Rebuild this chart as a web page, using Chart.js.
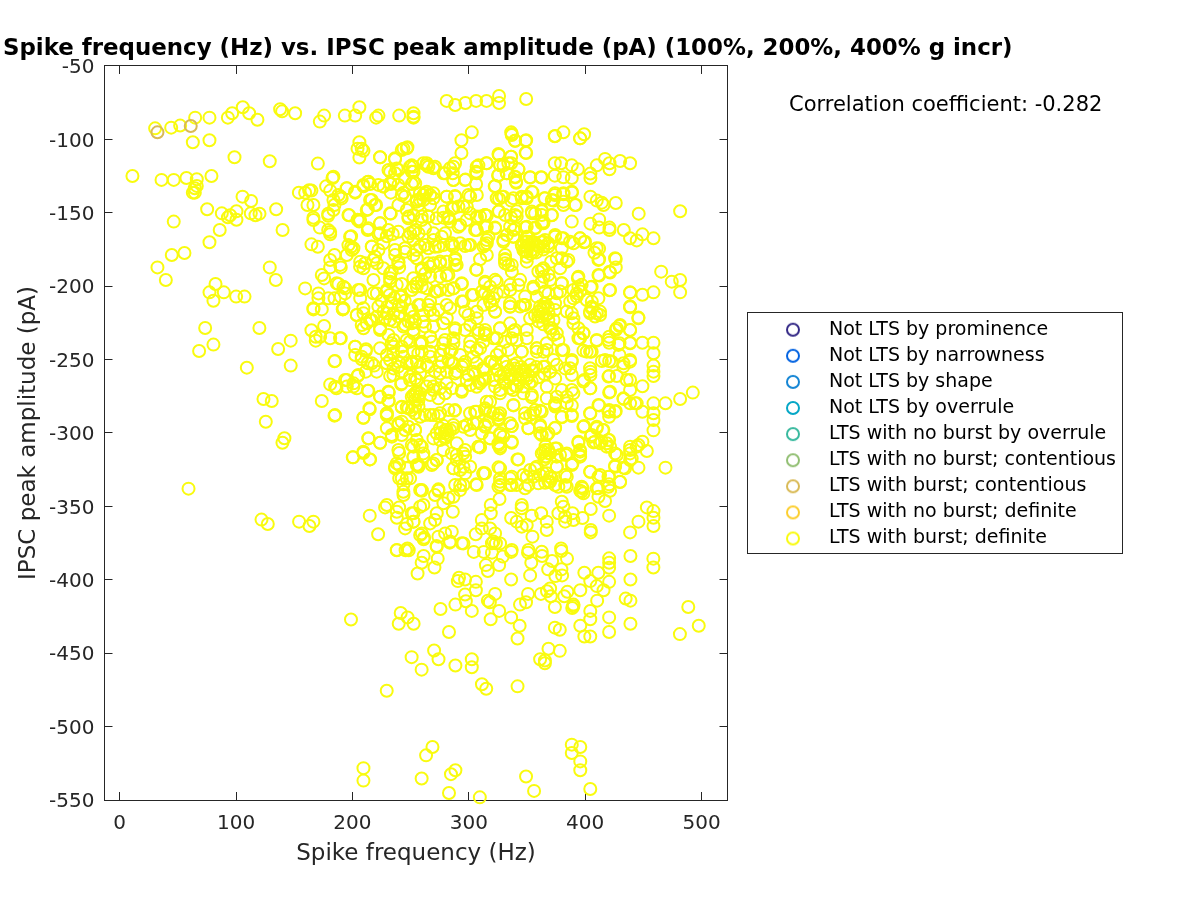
<!DOCTYPE html>
<html>
<head>
<meta charset="utf-8">
<title>Spike frequency vs. IPSC peak amplitude</title>
<script src="https://cdn.jsdelivr.net/npm/chart.js@4"></script>
<style>
    body { margin: 0; background: #fff; }
    canvas { display: block; }
</style>
</head>
<body>
<canvas id="myChart" width="1200" height="900"></canvas>
<script>
// Values, [spike frequency, IPSC peak amplitude]
const burstContentious = [[32.5,-95.2],[61.1,-90.9]];

const burstDefinite = [
    // outer top left
    [30.5,-92.5],[44.3,-92],[52,-90.6],[64.9,-85.2],[77.2,-85.2],[62.9,-102],[77.2,-100.6],[93,-85.2],[96.7,-82.2],[105.8,-78.1],
    [111.3,-82.2],[118.4,-86.6],[137.9,-79.5],[139.6,-80.9],[150.8,-82.2],[172,-87.9],[175.7,-83.8],[193.5,-83.8],[202.4,-83.8],[206,-78.1],
    [220.4,-85.2],[222.4,-83.8],[240.2,-83.8],[252.5,-82.2],[252.5,-85.2],[98.7,-112.2],[129,-114.9],[170.3,-116.5],[206,-102],[204.4,-106.3],
    [208,-106.3],[209.5,-107.7],[206,-112.4],[223.8,-112.2],[236.7,-113.6],[243.9,-106.3],[247.3,-105.4],[11,-124.9],[36,-127.6],[46.5,-127.6],
    [57.4,-126.3],[66.3,-127.2],[66.3,-131.7],[64.6,-133.3],[64.6,-136.3],[62.9,-136.3],[78.9,-124.9],[105.6,-139],[113,-142],[75.2,-147.6],
    [87.8,-150.4],[95,-151.7],[93,-153.1],[100.4,-149],[100.4,-154.7],[112.7,-150.4],[116.7,-151.7],[120.2,-150.6],[134.5,-147.6],[140,-161.7],
    [46.5,-156],[86,-161.7],[77.2,-170.1],[44.8,-178.8],[55.7,-177.4],[32.5,-187.2],[39.7,-195.8],[129,-187.2],[134.2,-195.8],[82.4,-198.5],
    [77.2,-204.2],[89.5,-204.2],[100.1,-207.1],[107.3,-207.1],[80.6,-209.9],[159.4,-201.5],
    // left edge of the cloud, top half
    [154,-136.3],[159.4,-136.3],[162.8,-134.7],[164.8,-134.9],[161.4,-144.7],[166.5,-144.7],[166.5,-153.3],[166.5,-154.9],[179.2,-150.6],[179.2,-152],
    [172,-160.1],[179.2,-161.7],[180.9,-163.1],[180.9,-164.7],[164.8,-171.5],[170.3,-173.1],[182.9,-126.3],[177.4,-132],[180.9,-134.9],[188,-137.9],
    [190,-139],[184.6,-144.7],[195.2,-133.3],[202.4,-136.3],[209.5,-132],[213.2,-129],[215.2,-130.4],[215.2,-141.3],[213.2,-147.6],[220.4,-144.7],
    [197.2,-151.7],[204.4,-154.7],[206,-156],[213.2,-161.7],[198.9,-166],[198.9,-173.1],[223.8,-157.2],[222.4,-164.7],[229.6,-166],[234.7,-164.5],
    [233,-150.6],[231,-120.8],[236.7,-123.1],[238,-119.9],[251,-117.7],[252.5,-122],[226.7,-132],[233,-130.4],[233,-136.3],[243.9,-136.3],
    [245.3,-139],[251,-130.4],[255.3,-141.3],[248.2,-152.6],[249.6,-164],[245.3,-176.5],[252.5,-178.8],[236.7,-178.8],[239.6,-183.3],[240.2,-187.2],
    [216.7,-173.1],[219.5,-179.9],[222.4,-175.3],[221,-184.4],[184.6,-178.8],[180.9,-182.2],[180.9,-187.2],[173.7,-192.4],[175.7,-194.7],[190,-187.2],
    [195.2,-178.8],[199.5,-175.3],[206.7,-183.3],[209.5,-187.8],[188,-198.5],[192.3,-200.3],[193.7,-204.9],[190,-207.1],[206.7,-202.6],[206.7,-208.3],
    [218.1,-195.8],[232.4,-191.3],[232.4,-197],[242.4,-198.5],[221,-204.9],[229.6,-202.6],[241,-207.1],[255.3,-198],[251,-202.6],[170.8,-204.9],
    [170.8,-208.3],[179.4,-208.3],[184.6,-208.3],[166.5,-215],[192.3,-215.1],
    // top right
    [281,-73.8],[288.3,-76.6],[297.1,-75.2],[306.3,-73.8],[315.2,-73.8],[326,-70.4],[326,-75.2],[349.3,-72.5],[252.5,-84.5],[302.6,-95.2],
    [293.7,-100.6],[293.7,-109.3],[336.4,-95.2],[337,-96.3],[339.8,-100.9],[349.3,-100.6],[349.3,-109.3],[373.9,-97.9],[381.3,-95.2],[395.7,-99.3],
    [399.1,-96.5],[326,-110.6],[336.4,-111.8],[336.4,-116.3],[329.8,-117.7],[326.9,-117.7],[342.7,-120.4],[325.2,-124.7],[332.7,-123.1],[339.8,-125.8],
    [340.7,-129.5],[352.7,-125.8],[361.9,-125.8],[322.3,-132],[373.9,-116.3],[379.3,-116.3],[388.5,-117.7],[393.7,-120.4],[373.9,-124.7],[381.3,-125.8],
    [388.5,-126.3],[410,-117.7],[417.1,-113.3],[420.9,-116.3],[420.9,-120.4],[430,-114.7],[438.6,-116.3],[404.5,-123.3],[404.5,-126.3],[404.5,-139],
    [410,-141.7],[415.7,-144.7],[414.3,-143.1],[426.3,-143.3],[446,-150.6],[481.6,-149],[388.5,-156],[404.5,-157.4],[412,-154.5],[412,-160.1],
    [420.9,-160.1],[420.9,-161.7],[433.2,-161.7],[438.6,-167.4],[444.3,-168.8],[449.2,-164.7],[458.7,-167.4],[395.7,-167.4],[399.1,-170.1],[408,-177.2],
    [412,-174.4],[412,-181.7],[426.3,-181.5],[426.3,-187.2],[420.9,-190.1],[412,-192.8],[465.3,-190.1],[474.4,-196.9],[481.6,-195.8],[481.6,-204.2],
    [458.7,-204.2],[449.2,-205.8],[438.6,-204.2],[420.9,-202.8],[404.8,-200.8],[393.7,-194.4],[438.6,-213.9],
    // middle, top half
    [388.7,-136.3],[381.3,-137.4],[373.9,-137.9],[365,-140.1],[354.7,-136],[349.8,-139],[345.5,-140.1],[336.4,-141.7],[326,-140.4],[329.8,-139],
    [306.9,-137.9],[301.2,-139],[306.3,-130.4],[297.1,-127.4],[286.8,-127.7],[286.3,-123.1],[286.8,-118.6],[278.2,-123.1],[263.9,-117.7],[306.3,-122],
    [308.3,-117.7],[315.2,-116.3],[288.3,-139],[281,-139],[266.8,-137.9],[261,-137.9],[255.3,-142.4],[269.6,-140.1],[381.3,-144.7],[372.8,-141.7],
    [391.9,-144.7],[371.3,-151.7],[362.7,-149],[364.2,-156],[354.3,-150.4],[326,-149],[341.2,-149],[336.4,-153.3],[341.2,-152.6],[315.5,-152],
    [306.9,-153.3],[298.3,-145.8],[291.1,-145.8],[285.4,-147],[278.2,-153.3],[284,-156],[292.6,-158.3],[306.9,-161.7],[315.5,-159.5],[322.6,-160.1],
    [348.4,-160.1],[357,-160.1],[362.7,-157.2],[338.4,-161.7],[329.8,-169.7],[338.4,-166.3],[332.7,-165.1],[374.2,-165.1],[381.3,-167.4],[390,-170.8],
    [315.5,-170.8],[301.2,-171.9],[296.9,-172.6],[285.4,-170.8],[278.2,-171.9],[271,-173.1],[255.3,-175.3],[255.3,-181],[315.5,-178.8],[309.7,-181.7],
    [288.3,-181],[288.3,-185.6],[281,-183.3],[275.4,-184.4],[269.6,-184.4],[306.3,-188.7],[331.2,-181.5],[331.2,-184.4],[337,-190.1],[334.1,-185.6],
    [349.8,-166.3],[349.8,-169.7],[349.8,-173.1],[349.8,-176.5],[349.8,-179.9],[349.8,-183.3],[354,-169.7],[354,-175.3],[364,-169.7],[364,-173],
    [368.5,-170.8],[370.7,-183.3],[378.5,-187.8],[384.2,-183.3],[379.9,-181],[362.7,-189],[364.2,-193.5],[369.9,-195.8],[281,-192.8],[294,-198.5],
    [286.8,-201.5],[282.5,-202.6],[259.6,-195.8],[262.5,-191.3],[252.5,-200.3],[259.6,-200.3],[271,-203.7],[275.4,-202.6],[314,-196.9],[324,-196.9],
    [318.3,-200.3],[311.2,-203.7],[316.9,-207.1],[324,-204.9],[335.5,-202.6],[342.7,-199.2],[355.6,-201.5],[362.7,-197],[379.9,-198],[378.5,-203.7],
    [368.5,-204.9],[358.4,-207.1],[394.2,-200.3],[392.8,-204.9],[390,-208.3],[387.1,-210.5],[395.7,-203.7],[405.7,-210.5],[411.4,-208.3],[348.4,-212.8],
    [335.5,-211.7],[318.3,-210.5],[295.4,-210.5],[302.6,-206],[281,-212.8],[266.8,-210.5],[258.2,-212.8],[374.2,-211.7],[364.2,-214],
    [252.5,-118.6],[251,-122],[254,-130],[258.2,-141.3],[262.5,-136.7],[265.3,-118.6],[261,-116.3],[271,-118.6],[252.5,-151.5],[259.6,-152.6],
    [265.3,-152.6],[254,-161.7],[256.8,-164],[262.5,-160.6],[269.6,-164],[276.8,-166.3],[282.5,-152.6],[252.5,-168.5],[262.5,-171.9],[265.3,-184.4],
    [259.6,-187.8],[266.8,-193.5],[275.4,-193.5],[286.8,-173],[292.6,-170.8],[301.2,-150.4],[309.7,-152.6],[312.6,-173],[316.9,-166.3],[362.7,-151.5],
    [357,-150.4],[335.5,-159.5],
    // lower left
    [73.5,-228.5],[120.1,-228.5],[80.6,-239.8],[68.3,-244.1],[109.3,-255.5],[136.2,-242.8],[147,-237.1],[147,-254.1],[123.6,-276.8],[130.7,-278.2],
    [125.6,-292.3],[141.6,-303.6],[139.9,-306.6],[59.2,-337.9],[121.9,-359],[127.3,-362],[154.2,-360.4],[166.5,-360.4],[163.1,-363.4],[173.7,-278.2],
    [184.6,-288.2],[184.6,-251.2],[166.5,-215.8],[173.7,-215.8],[191.8,-215.8],[164.8,-230],[175.7,-227.1],[168.5,-234.4],[168.5,-237.1],[172.3,-234.4],
    [180.9,-235.5],[190,-235.5],[180.9,-266.9],[186.3,-269.6],[195.2,-263.9],[195.2,-268.4],[202.4,-241.2],[202.4,-246.9],[211.5,-244.1],[208,-249.8],
    [213.2,-252.5],[218.7,-254.1],[204.4,-261.2],[211.5,-258.2],[200.9,-268.4],[203.8,-269.6],[213.2,-271.2],[223.8,-275.3],[231.3,-272.5],[231.3,-278.2],
    [214.9,-283.9],[209.5,-289.6],[229.6,-286.6],[229.6,-288.2],[242.4,-282.5],[246.7,-282.5],[251,-284.3],[213.8,-303.6],[223.8,-306.6],[229.6,-296.8],
    [233.9,-302.5],[239.6,-293.4],[242.4,-292.3],[245.3,-298],[253.9,-298],[209.5,-313.6],[200.6,-316.6],[214.9,-318],[240.2,-313.6],[236.7,-323],
    [240.2,-321.8],[247.3,-323.6],[240.2,-330.9],[246.7,-330.9],[243.9,-335],[243.9,-342.3],[252.5,-309.3],[252.5,-316.6],[256.8,-323],[258.2,-338.8],
    [228.1,-350.7],[229.6,-349.1],[240.2,-350.7],[238.2,-353.6],[238.2,-357.7],[214.9,-356.3],[222.1,-369],[245.3,-365],[246.7,-362],[252.5,-360.4],
    [251,-354.7],[258.2,-350.2],[258.2,-369.5],[238.2,-379.7],[247.3,-378.6],[203.8,-219.6],[209.5,-218.5],[215.2,-223],[209.5,-228.7],[212.4,-225.3],
    [223.8,-228.7],[221,-220.8],[232.4,-223],[226.7,-217.4],[235.3,-218.5],[242.4,-214],[241,-218.5],[251,-216.2],[253.9,-224.2],[245.3,-226.4],
    [231,-233.2],[246.7,-236.7],[235.3,-236.7],[223.8,-242.3],[229.6,-246.9],[235.3,-241.2],[242.4,-244.6],[252.5,-244.6],[232.4,-250.3],[239.6,-251.4],
    [246.7,-252.5],[255.3,-251.4],[235.3,-256],[242.4,-258.2],[232.4,-261.2],[241.9,-266.9],[249.6,-263.9],[253.9,-262.8],[258.2,-273],[253.9,-277.5],
    [252.5,-274.1],[256.8,-282],
    // lower right
    [492.5,-272.5],[481.6,-276.8],[469,-279.8],[458.7,-279.8],[449.2,-285.5],[444.3,-279.8],[438.6,-279.8],[433.2,-276.8],[458.7,-286.6],[458.7,-291.2],
    [458.7,-298.2],[469,-323.6],[453,-312.3],[449.2,-305.9],[445.8,-308.2],[438.6,-309.3],[438.6,-313.9],[438.6,-318.4],[445.8,-323.6],[432.9,-323.6],
    [425.7,-322.3],[427.2,-315],[421.4,-309.3],[418.6,-307],[420.6,-304.8],[412.8,-307],[407.1,-306.4],[404.8,-302.5],[415.1,-298],[410,-295.7],
    [399.1,-295.2],[420.6,-288.9],[420.6,-284.3],[426.3,-285],[412,-281.2],[404.5,-286.8],[420.6,-272.5],[404.5,-269.6],[404.5,-260.5],[404.5,-258.2],
    [399.1,-263.9],[458.7,-261.2],[458.7,-258.2],[458.7,-254.1],[458.7,-245.7],[458.7,-238.5],[449.2,-238.5],[438.6,-238.5],[438.6,-229.8],[429.5,-227.1],
    [426.3,-229.8],[420.6,-234.4],[420.6,-238.5],[410,-237.1],[429.5,-238.9],[429.5,-246.9],[438.6,-251.4],[432.9,-252.5],[438.6,-263.9],[449.2,-268.2],
    [438.6,-270.7],[427.2,-261.2],[420.6,-261.2],[414.3,-251],[420.6,-251],[438.6,-214.4],[445.8,-221.4],[404.2,-244.6],[398.5,-243.9],[394.2,-235.5],
    [398.5,-232.1],[453,-350.7],[458.7,-353.2],[458.7,-357.7],[458.7,-363.4],[445.8,-360.4],[438.6,-367.7],[420.6,-356.3],[404.8,-351.8],[397.7,-357.9],
    [404.8,-366.1],[404.8,-367.7],[430,-333.4],[420.6,-329.8],[420.6,-335],[421.4,-339.3],[417.1,-346.3],[411.4,-343.4],[411.4,-337.7],[412.8,-328.6],
    [404.5,-326.4],[397.7,-337.7],[395.7,-339.3],[398.5,-341.1],[395.7,-312.7],[394.2,-306.6],[395.7,-316.1],[389.1,-320.7],[383.3,-315],[382.8,-328.6],
    [375.6,-323],[382.8,-335.4],[377,-336.6],[369.9,-333.2],[365.6,-333.9],[361.3,-328.6],[357,-324.1],[349.8,-329.8],[348.4,-337.7],[341.2,-335.4],
    [335.5,-330.9],[335.5,-335.4],[326.9,-324.1],[326.9,-333.2],[325.5,-336.6],[341.8,-318],[312.6,-327.5],[306.3,-335],[292.6,-335.4],[288.3,-335.4],
    [301.2,-323],[296.9,-327.5],[292.6,-325.2],[286.8,-324.1],[289.7,-318.4],[295.4,-313.9],[285.4,-313.9],[278.2,-311.6],[279.7,-302.5],[272.5,-300.2],
    [275.4,-304.8],[281.1,-298],[286.8,-294.6],[289.7,-307],[296.9,-316.1],[259.6,-309.3],[255.3,-304.8],[261,-316.1],[269.6,-320.7],[272.5,-318.4],
    [255.3,-321.8],[249.6,-330.9],[308.3,-309.3],[326.9,-309.3],[325.5,-307],[337,-306.6],[318.3,-303.6],[311.2,-300.2],[326.9,-301.4],[336.9,-295.2],
    [361.3,-295.7],[361.3,-300.2],[367,-301.4],[374.2,-296.4],[351.3,-296.8],[348.4,-290],[355.6,-286.6],[361.3,-284.8],[379.9,-289.3],[388.5,-288.4],
    [388.5,-281.2],[374.2,-282],[338.4,-281.2],[325.5,-287.7],[318.3,-285.5],[305.4,-285.5],[287.6,-284.8],[282.5,-284.3],[273.9,-288.4],[266.8,-287.7],
    [258.2,-288.9],[306.9,-293.4],[298.3,-294.6],[301.2,-298],[314,-294.6],[325.5,-291.2],[335.5,-293.4],[318.3,-278.7],[314,-283.2],[365.6,-311.6],
    [362.7,-313.9],[369.9,-313.9],[374.2,-310.5],[375.6,-316.1],[365.6,-316.1],[367,-327.5],[371.3,-330.9],[355.6,-329.8],[259.6,-339.3],[273.9,-339.3],
    [271,-342.3],[286.8,-343.4],[282.5,-344.5],[278.2,-347.9],[261,-349],[286.3,-353.6],[272.5,-354.7],[252.5,-354.7],[252.5,-360.4],[266.8,-361.6],
    [271,-359.3],[285.4,-367.2],[279.7,-368.4],[259.6,-368.4],[261.6,-371.3],[273.9,-370.6],[284,-374],[295.4,-375.2],[272.5,-377.5],[326.4,-345],
    [318.9,-349],[318.9,-354.7],[311.2,-359.3],[311.2,-365],[318.3,-365],[306,-369],[322.6,-368.4],[321.2,-374],[326.9,-375.2],[336.4,-357.9],
    [345.5,-349],[345.5,-351.3],[354.1,-356.3],[362.2,-354.7],[367,-360.4],[367,-366.1],[354.7,-370.6],[341.2,-360.4],[345.5,-363.8],[349.8,-362.7],
    [379.9,-346.8],[381.3,-350.2],[377,-354.7],[382.8,-357],[382.8,-360.4],[389.9,-359.3],[389.1,-354.7],[351.3,-379.7],[379.3,-378.6],[362.7,-380.9],
    [336.9,-379.7],
    // dense band around -260
    [322.6,-252.5],[326.9,-261.6],[332.7,-254.8],[331.2,-266.2],[335.5,-260.5],[338.4,-253.7],[341.2,-258.2],[342.7,-263.9],[346.9,-257.1],[346.9,-262.8],
    [351.3,-260.5],[354.1,-265],[354.1,-274.1],[346.9,-268.4],[335.5,-269.6],[326.9,-270.7],[365.6,-254.8],[369.9,-258.2],[374.2,-262.8],[367,-268.4],
    [375.6,-275.3],[374.2,-279.8],[379.9,-270.7],[384.2,-275.3],[388.5,-270.7],[388.5,-260.5],[388.5,-251.4],[382.8,-256],[372.8,-250.3],[381.3,-243.5],
    [364.2,-244.6],[358.4,-244.6],[359.9,-217.4],[362.7,-220.8],[364.2,-215],[368.5,-218.5],[369.9,-228.7],[372.8,-233.2],[377,-236.7],[367,-238.9],
    [358.4,-242.3],[372.8,-223],[389.9,-225.3],[388.5,-218.5],[405.7,-214],[410,-218.5],[412.8,-219.6],[404.2,-217.4],[322.6,-217.4],[312.6,-212.8],
    [335.5,-214],[326.9,-228.7],[335.5,-225.3],[339.8,-229.8],[349.8,-235.5],[345.5,-244.6],[336.9,-235.5],[324,-235.5],[314,-233.2],[308.3,-229.8],
    [301.2,-226.4],[288.3,-229.8],[301.2,-237.8],[306.9,-243.5],[319.8,-251.4],[324,-246.9],[292.6,-246.9],[284,-244.6],[286.8,-238.9],[278.2,-238.9],
    [266.8,-234.4],[259.6,-237.8],[269.6,-227.6],[281.1,-221.9],[266.8,-216.2],[284,-215],[296.9,-217.4],[306.9,-217.4],[252.5,-220.8],[261,-224.2],
    [252.5,-232.1],[259.6,-244.6],[266.8,-248],[275.4,-246.9],[286.8,-252.5],[294,-254.8],[281.1,-258.2],[299.7,-260.5],[308.3,-265],[314,-262.8],
    [294,-270.7],[285.4,-269.6],[275.4,-269.6],[269.6,-268.4],[263.9,-268.4],[255.3,-263.9],[251,-275.3],[255.3,-271.9],[251,-225.3],[258.2,-238.9],
    [251,-251.4],[258.2,-254.8],[265.3,-254.8],[271,-258.2],[276.8,-251.4],[282.5,-250.3],[289.7,-258.2],[296.9,-251.4],[304,-248],[309.7,-266.2],
    [301.2,-267.3],[321.2,-263.9],[322.6,-268.4],[339.8,-262.8],[341.2,-268.4],[279.7,-273],[273.9,-276.4],[266.8,-274.1],[256.8,-277.5],[253.9,-282],
    [330,-260],[335,-263],[340,-256],[345,-260],[350,-263],[355,-258],[360,-262],[365,-260],[325,-257],[330,-265],[340,-268],[352,-266],[358,-255],[345,-255],
    // bottom
    [198.8,-427],[241.5,-422.6],[247.4,-425.6],[239.8,-429.9],[252.6,-429.9],[275.7,-419.9],[288.5,-416.9],[302.6,-421.2],[283,-435.6],[318.8,-426.9],
    [326.1,-421.2],[336.4,-425.6],[343.7,-431.3],[341.9,-440],[250.9,-452.7],[270.2,-448.2],[274,-454.1],[259.5,-461.2],[288.5,-458.4],[302.6,-454.1],
    [302.6,-459.6],[229.5,-475.6],[311.3,-471.2],[315,-474.2],[341.9,-472.6],[374,-432.6],[378.2,-434],[395.8,-431.3],[399.3,-438.6],[404.4,-438.6],
    [404.4,-426.9],[404.4,-421.2],[420.6,-425.6],[420.6,-435.6],[438.9,-429.9],[438.9,-414.2],[434.8,-412.8],[438.9,-399.8],[420.6,-401.4],[415.8,-407.1],
    [410.3,-414.2],[410,-404.3],[395.8,-407.1],[389.9,-416.9],[388.9,-419.2],[374,-418.5],[368.5,-447],[378.2,-448.4],[361.3,-454.1],[365.4,-456.8],
    [365.4,-455],[488.6,-418.5],[481.4,-437],[497.6,-431.3],[209.5,-528.3],[209.5,-536.8],[268.8,-513.9],[263.3,-519.6],[259.5,-535.4],[288.5,-529.7],
    [284.7,-532.4],[283,-545.2],[309.5,-548.2],[349.2,-534],[356.1,-543.8],[388.5,-512.3],[395.8,-513.9],[388.5,-518],[395.8,-523.7],[395.8,-529.7],
    [404.4,-542.5],[238.1,-379.9],[245.7,-379.9],[248.4,-379.9],[261.2,-372.4],[272.3,-376.9],[261.2,-383.8],[259.5,-388.4],[273.3,-385.6],[270.5,-391.6],
    [256,-395.7],[304.3,-381],[312.9,-381],[319.9,-375.1],[323.3,-375.1],[319.9,-381.5],[329.2,-384.2],[336.4,-381],[314.7,-390],[326.1,-390],
    [316.4,-394],[283.6,-374.7],[294,-375.1],[350.9,-381.5],[353.7,-388.4],[363,-383.8],[371.6,-387.2],[368.2,-392.9],[379.6,-380.4],[384.4,-385.6],
    [379.6,-392.9],[380.2,-397],[374.4,-397.5],[352.7,-397],[336.4,-399.8],[399.3,-395.2],[411.3,-395.2],[404.4,-400.9],[420.6,-385.4],[420.6,-388.4],
    [420.6,-391.8],[438.9,-383.8],[458.6,-385.6],[458.6,-391.6],[290.6,-400.9],[291.6,-398.6],[296.8,-399.8],[306.1,-401.4],[306.1,-407.1],[296.8,-410],
    [297.5,-414.6],[322.6,-409.6],[316.4,-414.2],[318.1,-415.3],[350.9,-409.6],[349.2,-415.3],[344,-416.9],[362,-409.6],[369.9,-405.9],[367.2,-407.8],
    [370.5,-411.2],[382,-411.2],[384.7,-408.2],[389.9,-418],
    // second pass over the dense centre, upper left block
    [232.4,-129.9],[226.6,-132.2],[222.3,-131],[235.2,-127.7],[239.5,-131],[245.2,-126.5],[252.4,-128.8],[249.5,-118.6],[239.5,-120.9],[232.4,-122],
    [213.7,-128.8],[209.4,-131],[202.3,-135.6],[195.1,-133.3],[190.8,-140.2],[183.7,-141.3],[183.7,-125.4],[183.7,-148.1],[196.6,-151.5],[206.6,-154.9],
    [213.7,-160.6],[198,-166.3],[219.5,-144.7],[216.6,-141.3],[212.3,-148.1],[232.4,-150.4],[223.8,-157.2],[230.9,-161.7],[223.8,-164],[248.1,-153.8],
    [246.7,-148.1],[239.5,-144.7],[242.4,-137.9],[258.1,-136.7],[263.9,-135.6],[269.6,-136.7],[261,-141.3],[256.7,-144.7],[266.7,-144.7],[281,-139],
    [288.2,-138.6],[299.7,-137.9],[295.4,-145.8],[286.8,-147],[278.2,-149.2],[282.5,-153.8],[272.4,-153.8],[265.3,-152.6],[259.6,-154.9],[298.2,-154.9],
    [306.8,-152.6],[314,-151.5],[305.4,-161.7],[291.1,-159.5],[279.6,-164],[269.6,-168.5],[252.4,-162.9],[248.1,-166.3],[239.5,-162.9],[226.6,-170.8],
    [216.6,-173],[200.9,-174.2],[196.6,-172],[285.3,-172],[273.9,-173],[299.7,-172],[265.3,-174.2],[258.1,-173],[236.6,-175.4],[245.2,-174.2],
    [306.8,-118.6],[306.8,-123.1],[283.9,-119.7],[288.2,-116.3],[279.6,-123.1],[296.8,-127.7],[286.8,-127.7],[263.9,-116.3],[269.6,-119.7],[246.7,-106.1],
    [242.4,-107.2],[223.8,-112.2],[236.6,-112.9],
    // upper right block
    [336.9,-97],[339.8,-100.9],[348.9,-100.9],[348.9,-109],[374.1,-97.7],[395.6,-99.3],[325.5,-110],[336.3,-111.8],[315.4,-116.3],[326.9,-117.4],
    [334,-116.3],[342.6,-120.4],[325.5,-124.3],[332.6,-123.1],[339.8,-125.4],[340.6,-128.8],[352.7,-126],[362.7,-126],[322.6,-131.8],[324,-140.1],
    [328.3,-139],[338.3,-140.1],[345.5,-139],[349.8,-140.1],[354.1,-135.6],[365.5,-140.1],[374.1,-136.7],[381.3,-136.7],[388.5,-135.6],[371.3,-141.3],
    [381.3,-142.4],[391.3,-144.7],[325.5,-149.2],[339.8,-151.5],[354.1,-149.2],[362.7,-148.1],[371.3,-151.5],[331.2,-151.5],[314,-151.5],[314,-159.5],
    [322.6,-160.6],[339.8,-160.6],[349.8,-159.5],[357,-160.6],[364.1,-157.2],[315.4,-168.5],[329.7,-168.5],[338.3,-166.3],[345.5,-171.9],[351.2,-166.3],
    [358.4,-171.9],[365.5,-168.5],[374.1,-166.3],[379.9,-167.4],[387,-169.7],[395.6,-167.4],[399.9,-169.7],[409.9,-174.2],[331.2,-178.8],[346.9,-175.4],
    [355.5,-176.5],[368.4,-173],[379.9,-174.2],[314,-172],[347,-170],[352,-172],[356,-170],[360,-173],[364,-175],[348,-176],
    [353,-178],[358,-177],[362,-170],[346,-173],
    // middle left block
    [191.7,-215.7],[185,-250.9],[189.4,-235.5],[202.3,-241.2],[211.7,-243],[282.5,-192.3],[306.8,-188.9],[203.7,-219.6],[208,-226.4],[209.4,-215],
    [216.6,-223],[223.8,-229.8],[222.3,-213.9],[218,-204.8],[229.5,-203.7],[238.1,-199.1],[232.4,-194.6],[242.4,-207.1],[233.8,-211.6],[229.5,-218.4],
    [239.5,-220.7],[248.1,-224.1],[249.5,-216.2],[256.7,-212.8],[265.3,-212.8],[261,-219.6],[269.6,-219.6],[252.4,-229.8],[243.8,-227.5],[262.4,-227.5],
    [278.2,-225.3],[273.9,-216.2],[293.9,-210.5],[304,-206],[299.7,-219.6],[306.8,-221.9],[288.2,-228.7],[296.8,-229.8],[279.6,-236.6],[286.8,-235.5],
    [308.2,-232.1],[314,-229.8],[293.9,-198],[286.8,-201.4],[272.4,-203.7],[263.9,-201.4],[255.3,-200.3],[252.4,-194.6],[259.6,-188.9],[266.7,-186.7],
    [275.3,-183.2],[288.2,-182.1],[289.6,-185.5],[239.5,-184.4],[233.8,-190],[218,-182.1],[210.9,-184.4],[206.6,-186.7],[189.4,-185.5],[186.5,-198],
    [193.7,-201.4],[205.1,-202.6],[226.6,-187.8],[233.8,-238.9],[242.4,-241.2],[249.5,-237.8],[259.6,-238.9],[268.2,-237.8],[235.2,-245.7],[243.8,-248],
    [256.7,-245.7],[266.7,-244.6],[278.2,-243.4],[285.3,-243.4],[301.1,-241.2],[309.7,-242.3],[229.5,-252.5],[239.5,-254.8],[251,-252.5],[263.9,-253.6],
    [275.3,-254.8],[285.3,-252.5],[295.4,-253.6],[306.8,-252.5],[216.6,-252.5],[220.9,-258.2],[208,-248],[304,-258.2],[312.5,-255.9],
    [225,-210],[230,-214],[236,-208],[240,-213],[245,-210],[232,-206],[228,-222],[236,-224],
    // middle right block
    [331.2,-182.1],[336.9,-185.5],[344.1,-195.7],[335.5,-199.1],[329.7,-203.7],[322.6,-195.7],[314,-198],[314,-204.8],[321.2,-208.2],[319.7,-212.8],
    [322.6,-217.3],[335.5,-213.9],[348.4,-207.1],[355.5,-200.3],[365.5,-203.7],[375.6,-204.8],[379.9,-198],[394.2,-193.5],[405.6,-200.3],[411.4,-192.3],
    [421.4,-190.7],[425.7,-181],[411.4,-182.1],[385.6,-182.1],[375.6,-181],[364.1,-187.8],[368.4,-192.3],[359.8,-190],[389.9,-202.6],[397,-199.1],
    [392.8,-207.1],[401.3,-209.4],[421.4,-202.6],[438.6,-204.4],[438.6,-213.9],[445.7,-221.9],[412.8,-217.3],[405.6,-215],[404.2,-218.4],[408.5,-220.7],
    [361.3,-213.9],[364.1,-218.4],[368.4,-223],[359.8,-220.7],[374.1,-216.2],[371.3,-228.7],[375.6,-232.1],[356.9,-219.6],[365.5,-211.6],[352.7,-221.9],
    [344.1,-213.9],[346.9,-212.8],[326.9,-228.7],[338.3,-230.9],[349.8,-229.8],[341.2,-236.6],[331.2,-237.8],[321.2,-235.5],[314,-232.1],[312.6,-237.8],
    [384.2,-217.3],[389.9,-221.9],[394.2,-228.7],[398.5,-232.1],[395.6,-235.5],[409.9,-236.6],[401.3,-244.6],[405.6,-244.6],[420,-236.6],[427.1,-228.7],
    [430,-226.4],[438.6,-229.8],[438.6,-238.9],[428.6,-240],[417.1,-250.2],[422.8,-251.4],[438.6,-250.2],[432.8,-254.8],[367,-243.4],[379.9,-243.4],
    [358.4,-242.3],[345.5,-244.6],[334,-243.4],[326.9,-244.6],[318.3,-251.4],[329.7,-251.4],[341.2,-252.5],[352.7,-253.6],[364.1,-254.8],[375.6,-253.6],
    [388.5,-250.2],[387,-255.9],[404.2,-255.9],[335.5,-257.1],[324,-257.1],[312.6,-257.1],[348.4,-258.2],[354.1,-257.1],[369.8,-258.2],
    [362,-216],[366,-220],[360,-224],[364,-226],[368,-214],
    // lower left block
    [185.1,-287.8],[200.3,-316.6],[209.4,-312.7],[215.2,-318],[213.7,-303.7],[223.8,-306.6],[209.4,-289.6],[214.6,-283.2],[223.8,-275.3],[230.9,-271.9],
    [230.9,-278],[213.7,-271.2],[205.1,-260.5],[200.9,-266.2],[193.7,-263.9],[185.1,-268.5],[229.5,-287.1],[239.5,-311.6],[238.1,-320.7],[236.6,-324.1],
    [242.4,-330.9],[243.8,-340],[247.2,-324.1],[256.7,-321.8],[252.4,-316.1],[258.1,-308.2],[251,-308.2],[261,-313.9],[268.2,-321.8],[272.4,-318.4],
    [259.6,-338.9],[273.9,-338.4],[295.4,-335.4],[292.5,-338.9],[306.8,-335.4],[312.5,-327.5],[286.8,-324.1],[295.4,-323],[308.2,-309.3],[296.8,-311.6],
    [289.6,-315],[279.6,-300.2],[275.3,-296.8],[283.9,-298],[279.6,-303.7],[286.8,-296.8],[269.6,-303.7],[253.8,-298],[248.1,-295.7],[239.5,-294.6],
    [242.4,-301.4],[233.8,-301.4],[242.4,-282.1],[248.1,-283.2],[253.8,-286.6],[262.4,-287.8],[269.6,-287.8],[275.3,-286.6],[288.2,-284.4],[301.1,-286.6],
    [306.8,-285.5],[314,-284.4],[304,-293.4],[314,-295.7],[295.4,-295.7],[253.8,-273],[256.7,-275.3],[269.6,-270.7],[279.6,-273],[293.9,-271.9],
    [306.8,-268.5],[266.7,-265],[281,-266.2],[298.2,-263.9],[312.5,-263.9],[242.4,-266.2],[235.2,-260.5],[249.5,-261.6],[258.1,-259.4],[275.3,-259.4],
    [288.2,-259.4],[305.4,-259.4],[278,-295],[282,-301],[276,-300],[280,-298],
    // lower right block
    [338.3,-280.9],[321.2,-286.6],[326.9,-286.6],[325.5,-290],[316.9,-292.3],[336.9,-295.3],[329.7,-302.5],[326.9,-300.2],[318.3,-303.7],[336.9,-305.9],
    [325.5,-308.2],[326.9,-310.5],[309.7,-309.8],[314,-327.5],[325.5,-323.4],[326.9,-330.9],[326.9,-335.4],[336.9,-329.8],[336.9,-335.4],[342.6,-318],
    [351.2,-335.4],[346.9,-328.6],[352.7,-325.2],[358.4,-323],[364.1,-327.5],[375.6,-323],[369.8,-329.8],[374.1,-335.4],[384.2,-329.8],[384.2,-336.6],
    [368.4,-333.2],[359.8,-334.3],[348.4,-286.6],[352.7,-287.8],[357,-284.4],[362.7,-285.5],[351.2,-296.8],[361.3,-294.6],[362.7,-301.4],[368.4,-300.2],
    [374.1,-296.8],[379.9,-288.9],[388.5,-287.8],[374.1,-281],[367,-276.4],[384.2,-279.8],[354.1,-275.7],[346.9,-273],[338.3,-270.7],[326.9,-273],
    [315.4,-278.7],[389.9,-273],[398.5,-265],[404.2,-269.6],[421.4,-271.9],[404.2,-286.6],[411.4,-280.9],[420,-285.5],[425.7,-285.5],[432.8,-276.4],
    [442.9,-279.8],[435.7,-263.9],[420,-261.6],[398.5,-295.7],[409.9,-296.8],[415.7,-298],[405.6,-301.4],[408.5,-305.9],[414.2,-305.9],[420,-304.8],
    [394.2,-305.9],[395.6,-311.6],[395.6,-315],[388.5,-321.8],[384.2,-313.9],[375.6,-310.5],[368.4,-311.6],[364.1,-312.7],[367,-316.1],[378.4,-315],
    [425.7,-323],[434.3,-324.1],[418.5,-309.3],[425.7,-313.9],[438.6,-311.6],[444.3,-309.3],[440,-317.3],[404.2,-326.4],[411.4,-329.8],[420,-329.8],
    [430,-333.2],[420,-336.6],[409.9,-337.7],[397,-336.6],[397,-340],[366,-309],[369,-314],[365,-318]
];

const classNames = ['Not LTS by prominence', 'Not LTS by narrowness', 'Not LTS by shape', 'Not LTS by overrule',
    'LTS with no burst by overrule', 'LTS with no burst; contentious', 'LTS with burst; contentious',
    'LTS with no burst; definite', 'LTS with burst; definite'];
const classColors = ['#352a87', '#0363e1', '#1485d4', '#06a7c6', '#38b99e', '#92bf73', '#d9ba56', '#fcce2e', '#f9fb0e'];
const classPoints = [[], [], [], [], [], [], burstContentious, [], burstDefinite];

const xTicks = [0, 100, 200, 300, 400, 500];
const yTicks = [-50, -100, -150, -200, -250, -300, -350, -400, -450, -500, -550];

const textColor = '#262626';
const font = 'DejaVu Sans';

// Legend marker: a ring on a small canvas so it can sit apart from the text
function ringImage(color) {
    const c = document.createElement('canvas');
    c.width = 16;
    c.height = 16;
    const g = c.getContext('2d');
    g.strokeStyle = color;
    g.lineWidth = 2;
    g.beginPath();
    g.arc(8, 8, 6, 0, Math.PI * 2);
    g.stroke();
    return c;
}

// Same axis twice: ticks go inside on all four sides, like the original
function axis(position, ticks, size, showLabels, title, titlePadding) {
    const horizontal = position === 'top' || position === 'bottom';
    return {
        type: 'linear',
        axis: horizontal ? 'x' : 'y',
        position: position,
        min: horizontal ? -13 : -550,
        max: horizontal ? 522.3 : -50,
        afterBuildTicks: scale => { scale.ticks = ticks.map(v => ({ value: v })); },
        afterFit: scale => {
            if (horizontal) scale.height = size; else scale.width = size;
        },
        border: { display: true, color: textColor, width: 1 },
        grid: { drawOnChartArea: false, drawTicks: true, tickLength: -8, tickColor: textColor, tickWidth: 1 },
        ticks: {
            display: showLabels,
            autoSkip: false,
            maxRotation: 0,
            padding: horizontal ? 20 : 18,
            labelOffset: horizontal ? 0 : 2,
            color: textColor,
            font: { family: font, size: 20 }
        },
        title: {
            display: !!title,
            text: title || '',
            color: textColor,
            font: { family: font, size: 23 },
            padding: titlePadding || 0
        }
    };
}

// Moves the legend out of the plot and adds what Chart.js has no option for
const sidePanel = {
    id: 'sidePanel',
    afterLayout(chart) {
        const legend = chart.legend;
        legend.left = 759.4;
        legend.right = 1122;
        legend.top = 313.1;
        legend.bottom = 560;
    },
    afterDraw(chart) {
        const ctx = chart.ctx;
        ctx.save();
        ctx.strokeStyle = textColor;
        ctx.lineWidth = 1;
        ctx.strokeRect(747.5, 312.5, 375, 241);
        ctx.fillStyle = '#000';
        ctx.font = '21px "DejaVu Sans"';
        ctx.textBaseline = 'middle';
        ctx.fillText('Correlation coefficient: -0.282', 789, 106);
        ctx.restore();
    }
};

const ctx = document.getElementById('myChart').getContext('2d');
new Chart(ctx, {
    type: 'scatter',
    data: {
        datasets: classNames.map((name, i) => ({
            label: name,
            data: classPoints[i].map(p => ({ x: p[0], y: p[1] })),
            xAxisID: 'x',
            yAxisID: 'y',
            borderColor: classColors[i],
            backgroundColor: 'transparent',
            borderWidth: 2,
            pointRadius: 6,
            clip: false
        }))
    },
    options: {
        responsive: false,
        animation: false,
        layout: { padding: { left: 3 } },
        events: [],
        scales: {
            x: axis('bottom', xTicks, 100, true, 'Spike frequency (Hz)', { top: 0, bottom: 32 }),
            y: axis('left', yTicks, 101.5, true, 'IPSC peak amplitude (pA)', { top: 12, bottom: 0 }),
            x2: axis('top', xTicks, 1, false),
            y2: axis('right', yTicks, 472.5, false)
        },
        plugins: {
            title: {
                display: true,
                align: 'start',
                text: 'Spike frequency (Hz) vs. IPSC peak amplitude (pA) (100%, 200%, 400% g incr)',
                color: '#000',
                font: { family: font, size: 22.9, weight: 'bold' },
                padding: { top: 35.5, bottom: 2 }
            },
            legend: {
                position: 'chartArea',
                align: 'start',
                labels: {
                    usePointStyle: true,
                    pointStyleWidth: 53,
                    padding: 7.1,
                    color: '#000',
                    font: { family: font, size: 19 },
                    generateLabels: () => classNames.map((name, i) => ({
                        text: name,
                        pointStyle: ringImage(classColors[i]),
                        datasetIndex: i,
                        hidden: false
                    }))
                }
            },
            tooltip: { enabled: false }
        }
    },
    plugins: [sidePanel]
});
</script>
</body>
</html>
